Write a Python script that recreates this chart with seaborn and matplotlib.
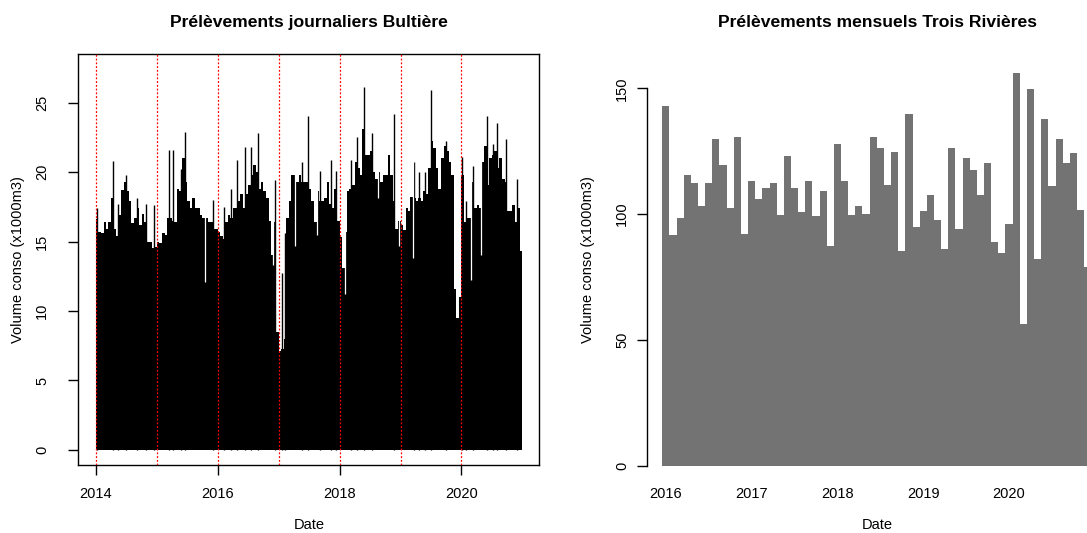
import pandas as pd
import numpy as np
import matplotlib
matplotlib.use("Agg")
import matplotlib.pyplot as plt
import matplotlib.dates as mdates
import seaborn as sns

# Bultiere daily withdrawals, read as half-month levels (1st and 16th of each month)
bultiere_2014 = [16.6, 15.7, 15.6, 16.4, 15.9, 16.4, 18.1, 15.9, 15.4, 16.9, 18.7, 19.3,
                 18.6, 17.9, 16.3, 16.7, 17.4, 16.2, 17.0, 16.4, 15.0, 15.0, 14.5, 14.6]
bultiere_2015 = [15.0, 14.9, 15.6, 15.5, 16.7, 16.7, 16.5, 16.4, 18.8, 18.6, 21.0, 19.3,
                 17.9, 17.4, 18.1, 17.4, 17.4, 16.9, 16.7, 16.7, 16.4, 16.4, 15.9, 15.9]
bultiere_2016 = [15.7, 15.4, 15.2, 16.4, 16.9, 16.7, 17.4, 17.4, 17.9, 18.4, 17.4, 18.4,
                 19.1, 19.8, 20.5, 20.0, 18.8, 19.3, 18.6, 18.1, 16.5, 14.0, 16.4, 8.5]
bultiere_2017 = [7.1, 7.3, 8.0, 16.7, 17.9, 19.8, 19.8, 19.3, 19.8, 19.3, 19.3, 19.3,
                 18.8, 17.9, 16.4, 18.6, 17.9, 17.9, 18.1, 19.3, 17.7, 17.4, 18.8, 16.5]
bultiere_2018 = [15.3, 13.1, 15.7, 18.6, 18.8, 19.1, 20.7, 20.3, 19.8, 23.1, 21.2, 21.2,
                 21.5, 20.0, 19.5, 20.0, 19.3, 19.8, 19.8, 21.2, 19.8, 17.9, 15.9, 16.5]
bultiere_2019 = [16.2, 15.8, 17.4, 17.2, 18.2, 18.1, 17.9, 18.1, 17.9, 18.6, 18.4, 20.3,
                 22.2, 21.7, 20.3, 18.8, 21.0, 21.9, 21.5, 20.7, 19.8, 11.6, 9.5, 11.0]
bultiere_2020 = [19.8, 16.4, 16.7, 16.7, 19.3, 17.4, 17.6, 17.4, 20.7, 21.9, 19.1, 21.0,
                 21.2, 21.5, 20.3, 21.0, 19.5, 19.3, 17.2, 17.2, 17.6, 16.4, 17.4, 14.3]

# single-day peaks and dips visible above / inside the black mass
spike_dates = ["2014-01-07", "2014-04-11", "2014-05-15", "2014-06-28", "2014-09-06",
               "2014-10-28", "2014-12-13", "2015-03-15", "2015-04-08", "2015-05-26",
               "2015-06-17", "2015-12-03", "2016-02-05", "2016-03-18", "2016-04-23",
               "2016-06-12", "2016-07-16", "2016-08-27", "2016-12-07", "2017-01-18",
               "2017-02-09", "2017-05-18", "2017-06-23", "2017-09-03", "2017-11-12",
               "2017-12-10", "2018-03-08", "2018-04-17", "2018-05-29", "2018-07-12",
               "2018-11-23", "2019-03-23", "2019-04-21", "2019-05-26", "2019-07-02",
               "2019-09-29", "2020-01-06", "2020-01-30", "2020-03-12", "2020-05-31",
               "2020-07-08", "2020-08-03", "2020-09-22", "2020-12-01"]
spike_values = [17.4, 20.8, 17.7, 19.8, 18.1,
                17.7, 17.6, 21.6, 21.6, 20.2,
                22.9, 18.0, 17.5, 18.8, 20.9,
                21.8, 21.8, 22.8, 19.4, 12.7,
                15.6, 20.7, 24.0, 20.1, 20.9,
                20.1, 20.9, 22.5, 26.1, 22.8,
                24.2, 20.7, 20.0, 20.0, 25.9,
                22.2, 21.1, 17.9, 20.4, 24.0,
                22.0, 23.5, 22.4, 19.5]
dip_dates = ["2015-10-16", "2016-11-25", "2017-04-06", "2017-08-16", "2018-01-31",
             "2018-08-19", "2018-12-21", "2019-03-15", "2020-02-25", "2020-04-29"]
dip_values = [12.1, 13.3, 14.7, 15.5, 11.2, 18.1, 14.7, 13.8, 12.2, 14.0]

year_lines = ["2014", "2015", "2016", "2017", "2018", "2019", "2020"]

# Trois Rivieres monthly withdrawals, Jan 2016 - Dec 2020
trois_rivieres = [143.0, 91.7, 98.6, 115.7, 112.2, 103.1, 112.4, 129.7, 119.4, 102.4, 130.8, 92.2,
                  113.3, 106.1, 110.5, 112.2, 99.6, 123.2, 110.5, 101.0, 113.3, 99.1, 109.1, 87.3,
                  127.9, 113.3, 99.6, 103.3, 100.2, 130.8, 126.1, 111.4, 124.6, 85.2, 139.7, 94.9,
                  101.1, 107.6, 97.8, 86.0, 126.1, 94.0, 122.3, 117.5, 107.7, 120.3, 88.9, 84.7,
                  96.1, 156.2, 56.3, 149.6, 82.3, 137.7, 111.2, 129.9, 120.4, 124.2, 101.6, 79.0]
year_labels = ["2016", "2017", "2018", "2019", "2020"]

sns.set_style("ticks")
plt.rcParams["font.family"] = ["Liberation Sans", "DejaVu Sans"]
plt.rcParams["text.color"] = "black"
plt.rcParams["axes.labelcolor"] = "black"
plt.rcParams["xtick.color"] = "black"
plt.rcParams["ytick.color"] = "black"

W, H = 1087, 533
fig = plt.figure(figsize=(W / 100, H / 100), dpi=100)
ax1 = fig.add_axes([78.3 / W, (H - 465) / H, 461 / W, 410.7 / H])
ax2 = fig.add_axes([646.7 / W, (H - 465.7) / H, 461 / W, 411.4 / H])

# ---- left: daily Bultiere ----
bultiere = (bultiere_2014 + bultiere_2015 + bultiere_2016 + bultiere_2017
            + bultiere_2018 + bultiere_2019 + bultiere_2020)
month_starts = pd.date_range("2014-01-01", "2020-12-01", freq="MS")
period_starts = sorted(list(month_starts) + list(month_starts + pd.Timedelta(days=15)))
edges = mdates.date2num(period_starts + [pd.Timestamp("2021-01-01")])
ax1.bar(edges[:-1], bultiere, width=np.diff(edges), align="edge",
        color="black", linewidth=0)
ax1.vlines(mdates.date2num(pd.to_datetime(spike_dates)), 0, spike_values,
           color="black", lw=1.0)
ax1.vlines(mdates.date2num(pd.to_datetime(dip_dates)), dip_values, 30,
           color="white", lw=0.9)
for y in year_lines:
    ax1.axvline(mdates.date2num(pd.Timestamp(y + "-01-01")), color="red",
                ls=(0, (1.5, 1.5)), lw=0.9, zorder=5)

t0 = mdates.date2num(pd.Timestamp("2014-01-01"))
ax1.set_xlim(t0 - 106, t0 + 2658)
ax1.set_ylim(-1.08, 28.47)
ax1.set_yticks([0, 5, 10, 15, 20, 25])
ax1.set_xticks([mdates.date2num(pd.Timestamp(y + "-01-01")) for y in ["2014", "2016", "2018", "2020"]])
ax1.set_xticklabels(["2014", "2016", "2018", "2020"])
for s in ax1.spines.values():
    s.set_color("black")
    s.set_linewidth(1.0)
ax1.tick_params(axis="both", length=7, width=1, color="black", labelsize=10.5, labelcolor="black")
ax1.tick_params(axis="x", pad=9)
ax1.tick_params(axis="y", labelrotation=90, pad=14)
for lab in ax1.get_yticklabels():
    lab.set_va("center")
ax1.set_title("Prélèvements journaliers Bultière", fontsize=12.6, fontweight="bold", pad=20)
ax1.set_xlabel("Date", fontsize=10.5, labelpad=12)
ax1.set_ylabel("Volume conso (x1000m3)", fontsize=10.5, labelpad=7)

# ---- right: monthly Trois Rivieres ----
months = [d.strftime("%Y-%m") for d in pd.date_range("2016-01-01", periods=len(trois_rivieres), freq="MS")]
sns.barplot(x=months, y=trois_rivieres, color="#737373", saturation=1, width=1,
            linewidth=0, ax=ax2)
ax2.set_xlim(-2.68, 61.8)
ax2.set_ylim(0, 163.5)
ax2.set_yticks([0, 50, 100, 150])
ax2.set_xticks([0, 12, 24, 36, 48])
ax2.set_xticklabels(year_labels)
for side in ["top", "right", "bottom"]:
    ax2.spines[side].set_visible(False)
ax2.spines["left"].set_bounds(0, 150)
ax2.spines["left"].set_color("black")
ax2.spines["left"].set_linewidth(1.0)
ax2.tick_params(axis="y", length=7, width=1, color="black", labelsize=10.5,
                labelrotation=90, pad=5.5, labelcolor="black")
ax2.tick_params(axis="x", length=0, labelsize=10.5, pad=15.5, labelcolor="black")
for lab in ax2.get_yticklabels():
    lab.set_va("center")
ax2.set_title("Prélèvements mensuels Trois Rivières", fontsize=12.6, fontweight="bold", pad=20)
ax2.set_xlabel("Date", fontsize=10.5, labelpad=12)
ax2.set_ylabel("Volume conso (x1000m3)", fontsize=10.5, labelpad=15)

fig.savefig("out.png", dpi=100)
